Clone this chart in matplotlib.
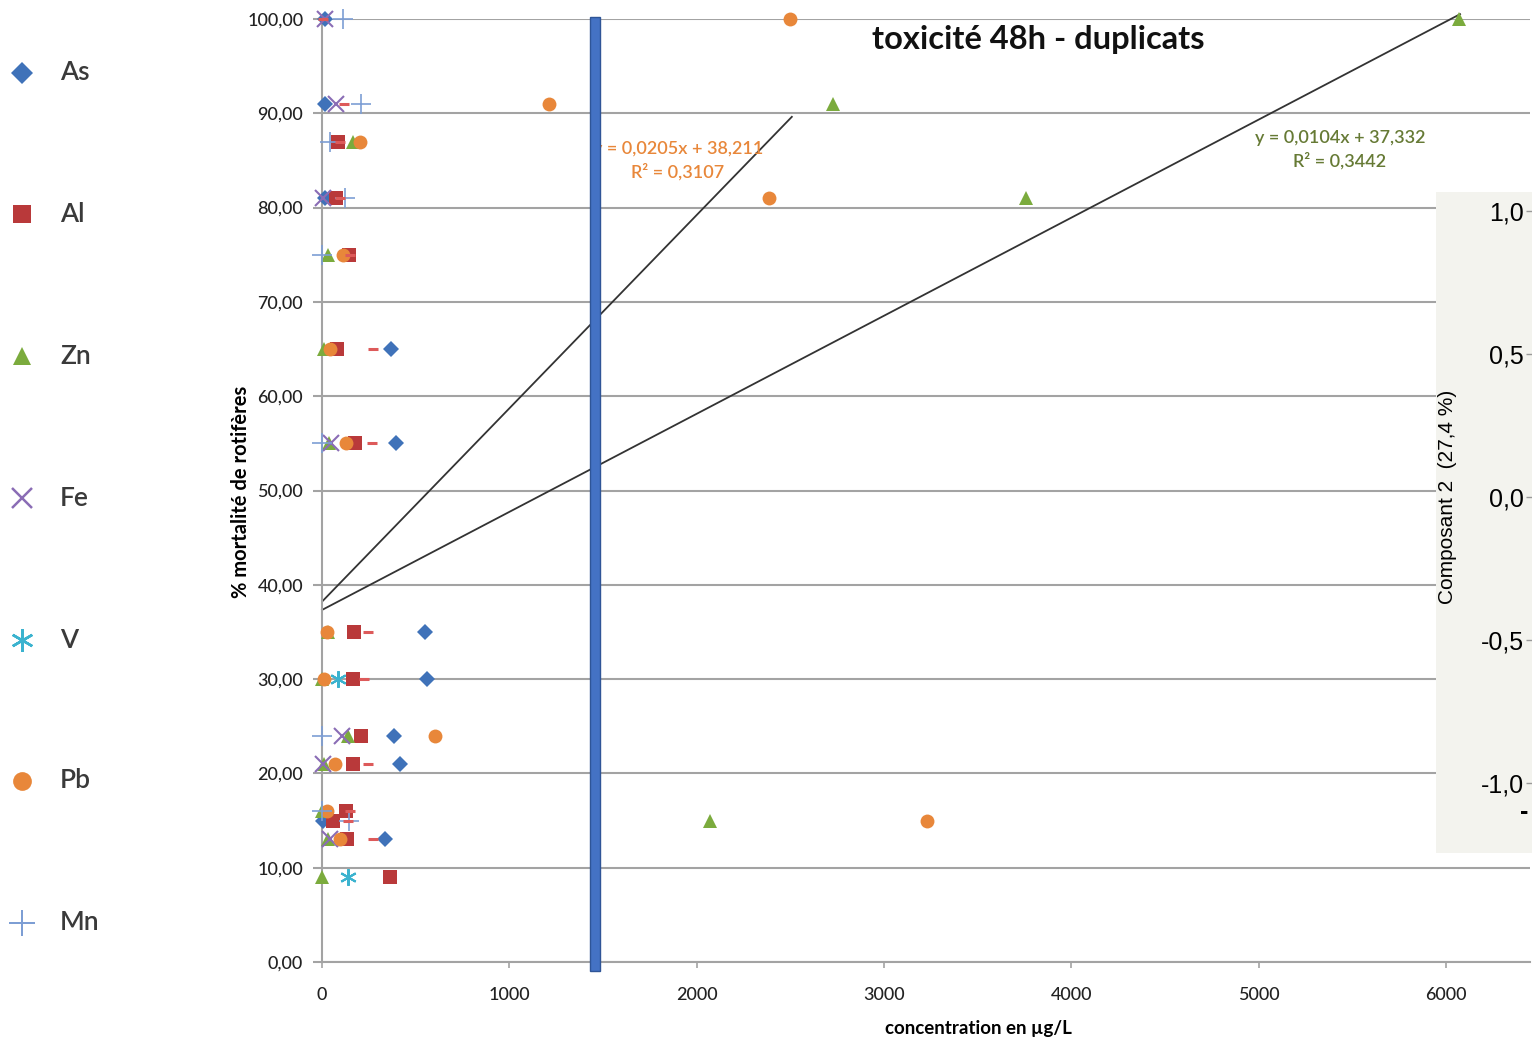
import matplotlib
matplotlib.use("Agg")
import matplotlib.pyplot as plt
from matplotlib.lines import Line2D
from matplotlib.patches import Rectangle

plt.rcParams['font.family'] = ['Lato', 'DejaVu Sans']

# ---------------- data ----------------
series_names = ["As", "Al", "Zn", "Fe", "V", "Pb", "Mn"]

as_x = [15, 15, 15, 368, 395, 550, 560, 384, 416, 5, 336]
as_y = [100, 91, 81, 65, 55, 35, 30, 24, 21, 15, 13]

al_x = [85, 75, 144, 80, 176, 171, 165, 208, 165, 128, 59, 133, 363]
al_y = [87, 81, 75, 65, 55, 35, 30, 24, 21, 16, 15, 13, 9]

zn_x = [6072, 2727, 165, 3757, 32, 10, 37, 32, 0, 139, 10, 0, 2070, 32, 0]
zn_y = [100, 91, 87, 81, 75, 65, 55, 35, 30, 24, 21, 16, 15, 13, 9]

fe_x = [16, 75, 5, 48, 107, 5, 43]
fe_y = [100, 91, 81, 55, 24, 21, 13]

v_x = [85, 139]
v_y = [30, 9]

pb_x = [2497, 1211, 203, 2385, 112, 43, 128, 27, 11, 603, 69, 27, 3228, 96]
pb_y = [100, 91, 87, 81, 75, 65, 55, 35, 30, 24, 21, 16, 15, 13]

mn_x = [112, 208, 43, 123, 0, 0, 0, 0, 144]
mn_y = [100, 91, 87, 81, 75, 55, 24, 16, 15]

# small red dash marks (unlabelled series)
dash_x = [5, 117, 96, 96, 149, 272, 267, 245, 224, 245, 149, 139, 272]
dash_y = [100, 91, 87, 81, 75, 65, 55, 35, 30, 21, 16, 15, 13]

# trend lines (Pb and Zn)
trend1_slope, trend1_icpt, trend1_r2, trend1_xmax = 0.0205, 38.211, 0.3107, 2508
trend2_slope, trend2_icpt, trend2_r2, trend2_xmax = 0.0104, 37.332, 0.3442, 6075

y_ticks = [0, 10, 20, 30, 40, 50, 60, 70, 80, 90, 100]
x_ticks = [0, 1000, 2000, 3000, 4000, 5000, 6000]
pca_ticks = [1.0, 0.5, 0.0, -0.5, -1.0]

# ---------------- styles ----------------
styles = {
    "As": dict(marker='D', color='#3f72b9', ms=8.5, mew=0),
    "Al": dict(marker='s', color='#b9393a', ms=9.5, mew=0),
    "Zn": dict(marker='^', color='#7bab3d', ms=10, mew=0),
    "Fe": dict(marker='x', color='#8a6cb5', ms=11, mew=1.5),
    "V":  dict(marker=(6, 2, 0), color='#3bb3cf', ms=12, mew=1.5),
    "Pb": dict(marker='o', color='#e8873a', ms=10, mew=0),
    "Mn": dict(marker='+', color='#7d9ed4', ms=14, mew=1.2),
}
data = {"As": (as_x, as_y), "Al": (al_x, al_y), "Zn": (zn_x, zn_y),
        "Fe": (fe_x, fe_y), "V": (v_x, v_y), "Pb": (pb_x, pb_y), "Mn": (mn_x, mn_y)}

W, H = 1532, 1039
fig = plt.figure(figsize=(W / 100, H / 100), dpi=100)
fig.patch.set_facecolor('white')

def fx(px):
    return px / W

def fy(py):
    return 1 - py / H

# main axes: x 0 at px 322, 6000 at px 1446; y 0 at 962, 100 at 19
px_per_x = (1446 - 322) / 6000.0
x_right = (1530 - 322) / px_per_x
ax = fig.add_axes([fx(322), fy(962), fx(1530) - fx(322), fy(19) - fy(962)])
ax.set_xlim(0, x_right)
ax.set_ylim(0, 100)

grid_c = '#a3a3a3'
ax.set_yticks(y_ticks)
ax.set_yticklabels([f"{v:.2f}".replace('.', ',') for v in y_ticks], fontsize=13,
                   fontweight='medium', color='#222222')
ax.set_xticks(x_ticks)
ax.set_xticklabels([str(v) for v in x_ticks], fontsize=13, fontweight='medium', color='#222222')
ax.grid(axis='y', color=grid_c, linewidth=1.5, zorder=0)
ax.set_axisbelow(True)
ax.tick_params(axis='y', direction='out', length=6.5, width=1.5, color=grid_c, pad=7)
ax.tick_params(axis='x', direction='out', length=4, width=1.2, color=grid_c, pad=14)
for s in ['top', 'right']:
    ax.spines[s].set_visible(False)
for s in ['left', 'bottom']:
    ax.spines[s].set_color(grid_c)
    ax.spines[s].set_linewidth(1.5)

ax.set_ylabel("% mortalité de rotifères", fontsize=14.5, fontweight='bold')
ax.yaxis.set_label_coords((251 - 322) / 1208, (962 - 492) / 943)
ax.set_xlabel("concentration en µg/L", fontsize=13.5, fontweight='bold')
ax.xaxis.set_label_coords((978 - 322) / 1208, (962 - 1020) / 943)

# trend lines
ax.plot([0, trend1_xmax], [trend1_icpt, trend1_icpt + trend1_slope * trend1_xmax],
        color='#333333', lw=1.3, zorder=2)
ax.plot([0, trend2_xmax], [trend2_icpt, trend2_icpt + trend2_slope * trend2_xmax],
        color='#333333', lw=1.3, zorder=2, clip_on=False)

# series
for name in series_names:
    st = styles[name]
    xs, ys = data[name]
    ax.plot(xs, ys, linestyle='none', marker=st['marker'], color=st['color'],
            markersize=st['ms'], markeredgewidth=st['mew'], markeredgecolor=st['color'],
            clip_on=False, zorder=4, label=name)
ax.plot(dash_x, dash_y, linestyle='none', marker='_', color='#dd5a5a',
        markersize=7, markeredgewidth=2.2, clip_on=False, zorder=5)

def to_data(px, py):
    return (px - 322) / px_per_x, (962 - py) / 9.43

# trendline labels
tx, ty = to_data(678, 161)
ax.text(tx, ty, "y = 0,0205x + 38,211\nR² = 0,3107", color='#e8873a',
        fontsize=13, fontweight='semibold', ha='center', va='center',
        multialignment='center', linespacing=1.45, zorder=3)
tx, ty = to_data(1340, 150)
ax.text(tx, ty, "y = 0,0104x + 37,332\nR² = 0,3442", color='#667a35',
        fontsize=13, fontweight='semibold', ha='center', va='center',
        multialignment='center', linespacing=1.45, zorder=3)

# title
ax.text((1038 - 322) / 1208, (962 - 39) / 943, "toxicité 48h - duplicats", transform=ax.transAxes,
        fontsize=23.5, fontweight='bold', ha='center', va='center', color='#111111', zorder=6)

# blue vertical bar (overlay)
fig.add_artist(Rectangle((fx(590), fy(971)), fx(600) - fx(590), fy(17) - fy(971),
                         transform=fig.transFigure, facecolor='#4472c4', edgecolor='#2f5597',
                         linewidth=1.0, zorder=10))

# left legend (manual)
leg_y = [73, 214, 356, 498, 640, 781, 923]
for name, py in zip(series_names, leg_y):
    st = styles[name]
    fig.add_artist(Line2D([fx(22)], [fy(py)], transform=fig.transFigure, linestyle='none',
                          marker=st['marker'], color=st['color'], markersize=st['ms'] * 1.35,
                          markeredgewidth=st['mew'] * 1.2, markeredgecolor=st['color']))
    fig.text(fx(60), fy(py), name, fontsize=19, fontweight='semibold', color='#3a3a3a',
             ha='left', va='center')

# right PCA fragment panel
px_per_unit = 286.0
top_v = 1.0 + (211 - 192) / px_per_unit
bot_v = -1.0 - (853 - 783) / px_per_unit
ax2 = fig.add_axes([fx(1436), fy(853), fx(1532) - fx(1436), fy(192) - fy(853)])
ax2.set_facecolor('#f3f3ee')
ax2.set_ylim(bot_v, top_v)
ax2.set_xlim(0, 1)
ax2.set_xticks([])
for s in ax2.spines.values():
    s.set_visible(False)
ax2.yaxis.tick_right()
ax2.set_yticks(pca_ticks)
ax2.set_yticklabels([f"{v:.1f}".replace('.', ',') for v in pca_ticks],
                    fontsize=18, family=['Liberation Sans', 'DejaVu Sans'])
ax2.tick_params(axis='y', direction='in', length=4, width=1, color='#999999', pad=-6)
for lab in ax2.get_yticklabels():
    lab.set_horizontalalignment('right')
for v, t in zip(pca_ticks, ax2.yaxis.get_major_ticks()):
    if v == 0.0:
        t.tick2line.set_color('#e02020')
ax2.text(0.115, (853 - 497) / 661, "Composant 2  (27,4 %)", transform=ax2.transAxes,
         rotation=90, ha='center', va='center', fontsize=15,
         family=['Liberation Sans', 'DejaVu Sans'])
ax2.text((1524 - 1436) / 96, -1.10, "-", ha='center', va='center', fontsize=18,
         fontweight='bold', family=['Liberation Sans', 'DejaVu Sans'])

fig.savefig("out.png", dpi=100)
